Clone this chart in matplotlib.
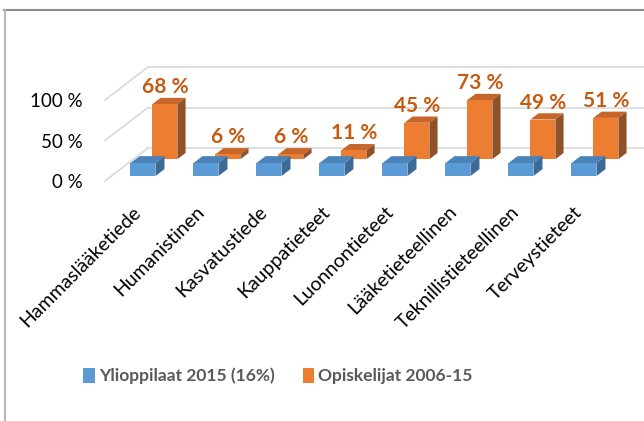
import matplotlib
matplotlib.use("Agg")
import matplotlib.pyplot as plt
from matplotlib.patches import Polygon, Patch
from matplotlib.lines import Line2D
from matplotlib.transforms import ScaledTranslation

plt.rcParams['font.family'] = ['Lato', 'DejaVu Sans']

categories = ["Hammaslääketiede", "Humanistinen", "Kasvatustiede", "Kauppatieteet",
              "Luonnontieteet", "Lääketieteellinen", "Teknillistieteellinen", "Terveystieteet"]
ylioppilaat = [16, 16, 16, 16, 16, 16, 16, 16]
opiskelijat = [68, 6, 6, 11, 45, 73, 49, 51]
series_names = ["Ylioppilaat 2015 (16%)", "Opiskelijat 2006-15"]
yticks = [0, 50, 100]
ytick_labels = ["0 %", "50 %", "100 %"]

W, H, DPI = 644, 421, 100
fig = plt.figure(figsize=(W / DPI, H / DPI), dpi=DPI)

# axes: front floor edge at y=181 px, left wall at x=105 px
px_per_cat = 63.0
px_per_100 = 81.0
left_px, floor_px = 105, 181
ax = fig.add_axes([left_px / W, (H - floor_px) / H, (W - left_px) / W, floor_px / H])
ax.set_xlim(-0.5, -0.5 + (W - left_px) / px_per_cat)
ax.set_ylim(0, floor_px * 100 / px_per_100)
for s in ax.spines.values():
    s.set_visible(False)
ax.set_xticks([])
ax.set_yticks(yticks, labels=ytick_labels, fontsize=13.5, color='#000000')
ax.tick_params(axis='y', length=0, pad=16)

# oblique depth vector (data units)
DX = 43 / px_per_cat
DY = 33 * 100 / px_per_100
grid_c = '#d9d9d9'

# walls: back-wall gridlines and left-wall diagonals
xmax = ax.get_xlim()[1]
for v in yticks:
    ax.plot([-0.5 + DX, xmax], [v + DY, v + DY], color=grid_c, lw=1.2, zorder=1, clip_on=False)
    ax.plot([-0.5, -0.5 + DX], [v, v + DY], color=grid_c, lw=1.2, zorder=1, clip_on=False)

bw = 25 / px_per_cat


def draw_bars(vals, t0, t1, front, top, side, z):
    xs = [i + t0 * DX for i in range(len(vals))]
    ax.bar(xs, vals, width=bw, bottom=t0 * DY, color=front, zorder=z + 0.2, linewidth=0)
    for i, v in enumerate(vals):
        xl, xr = i - bw / 2, i + bw / 2
        toppoly = [(xl + t0 * DX, v + t0 * DY), (xr + t0 * DX, v + t0 * DY),
                   (xr + t1 * DX, v + t1 * DY), (xl + t1 * DX, v + t1 * DY)]
        sidepoly = [(xr + t0 * DX, t0 * DY), (xr + t0 * DX, v + t0 * DY),
                    (xr + t1 * DX, v + t1 * DY), (xr + t1 * DX, t1 * DY)]
        ax.add_patch(Polygon(toppoly, closed=True, facecolor=top, edgecolor='none', zorder=z))
        ax.add_patch(Polygon(sidepoly, closed=True, facecolor=side, edgecolor='none', zorder=z))


# back row (orange) first, then front row (blue)
ot0, ot1 = 0.66, 0.85
bt0, bt1 = 0.15, 0.36
draw_bars(opiskelijat, ot0, ot1, '#ED7D31', '#C7662A', '#8F5128', 2)
draw_bars(ylioppilaat, bt0, bt1, '#5B9BD5', '#4A82BA', '#3D6B98', 4)

# data labels for orange series
for i, v in enumerate(opiskelijat):
    ax.annotate(f"{v} %", (i + ot0 * DX, v + ot1 * DY), xytext=(0, 0.5), textcoords='offset points',
                ha='center', va='bottom', fontsize=15, fontweight='bold', color='#C55A11', zorder=10)

# category labels
off = ScaledTranslation(2 / DPI, -28 / DPI, fig.dpi_scale_trans)
for i, c in enumerate(categories):
    ax.text(i, 0, c, transform=ax.transData + off, rotation=45, rotation_mode='anchor',
            ha='right', va='center', fontsize=14, color='#000000')

# legend
handles = [Patch(facecolor='#5B9BD5', edgecolor='none'), Patch(facecolor='#ED7D31', edgecolor='none')]
leg = fig.legend(handles, series_names, loc='center', bbox_to_anchor=(278 / W, 1 - 376 / H), ncol=2,
                 frameon=False, handlelength=0.65, handleheight=1.0, handletextpad=0.25,
                 columnspacing=1.6, prop={'weight': 'bold', 'size': 12.5})
for t in leg.get_texts():
    t.set_color('#595959')

# chart frame (top and left edges visible)
fig.add_artist(Line2D([4 / W, 1], [1 - 10 / H, 1 - 10 / H], color='#8c8c8c', lw=1.5))
fig.add_artist(Line2D([5 / W, 5 / W], [0, 1 - 10 / H], color='#b8b8b8', lw=1.5))

fig.savefig("out.png", dpi=DPI)
